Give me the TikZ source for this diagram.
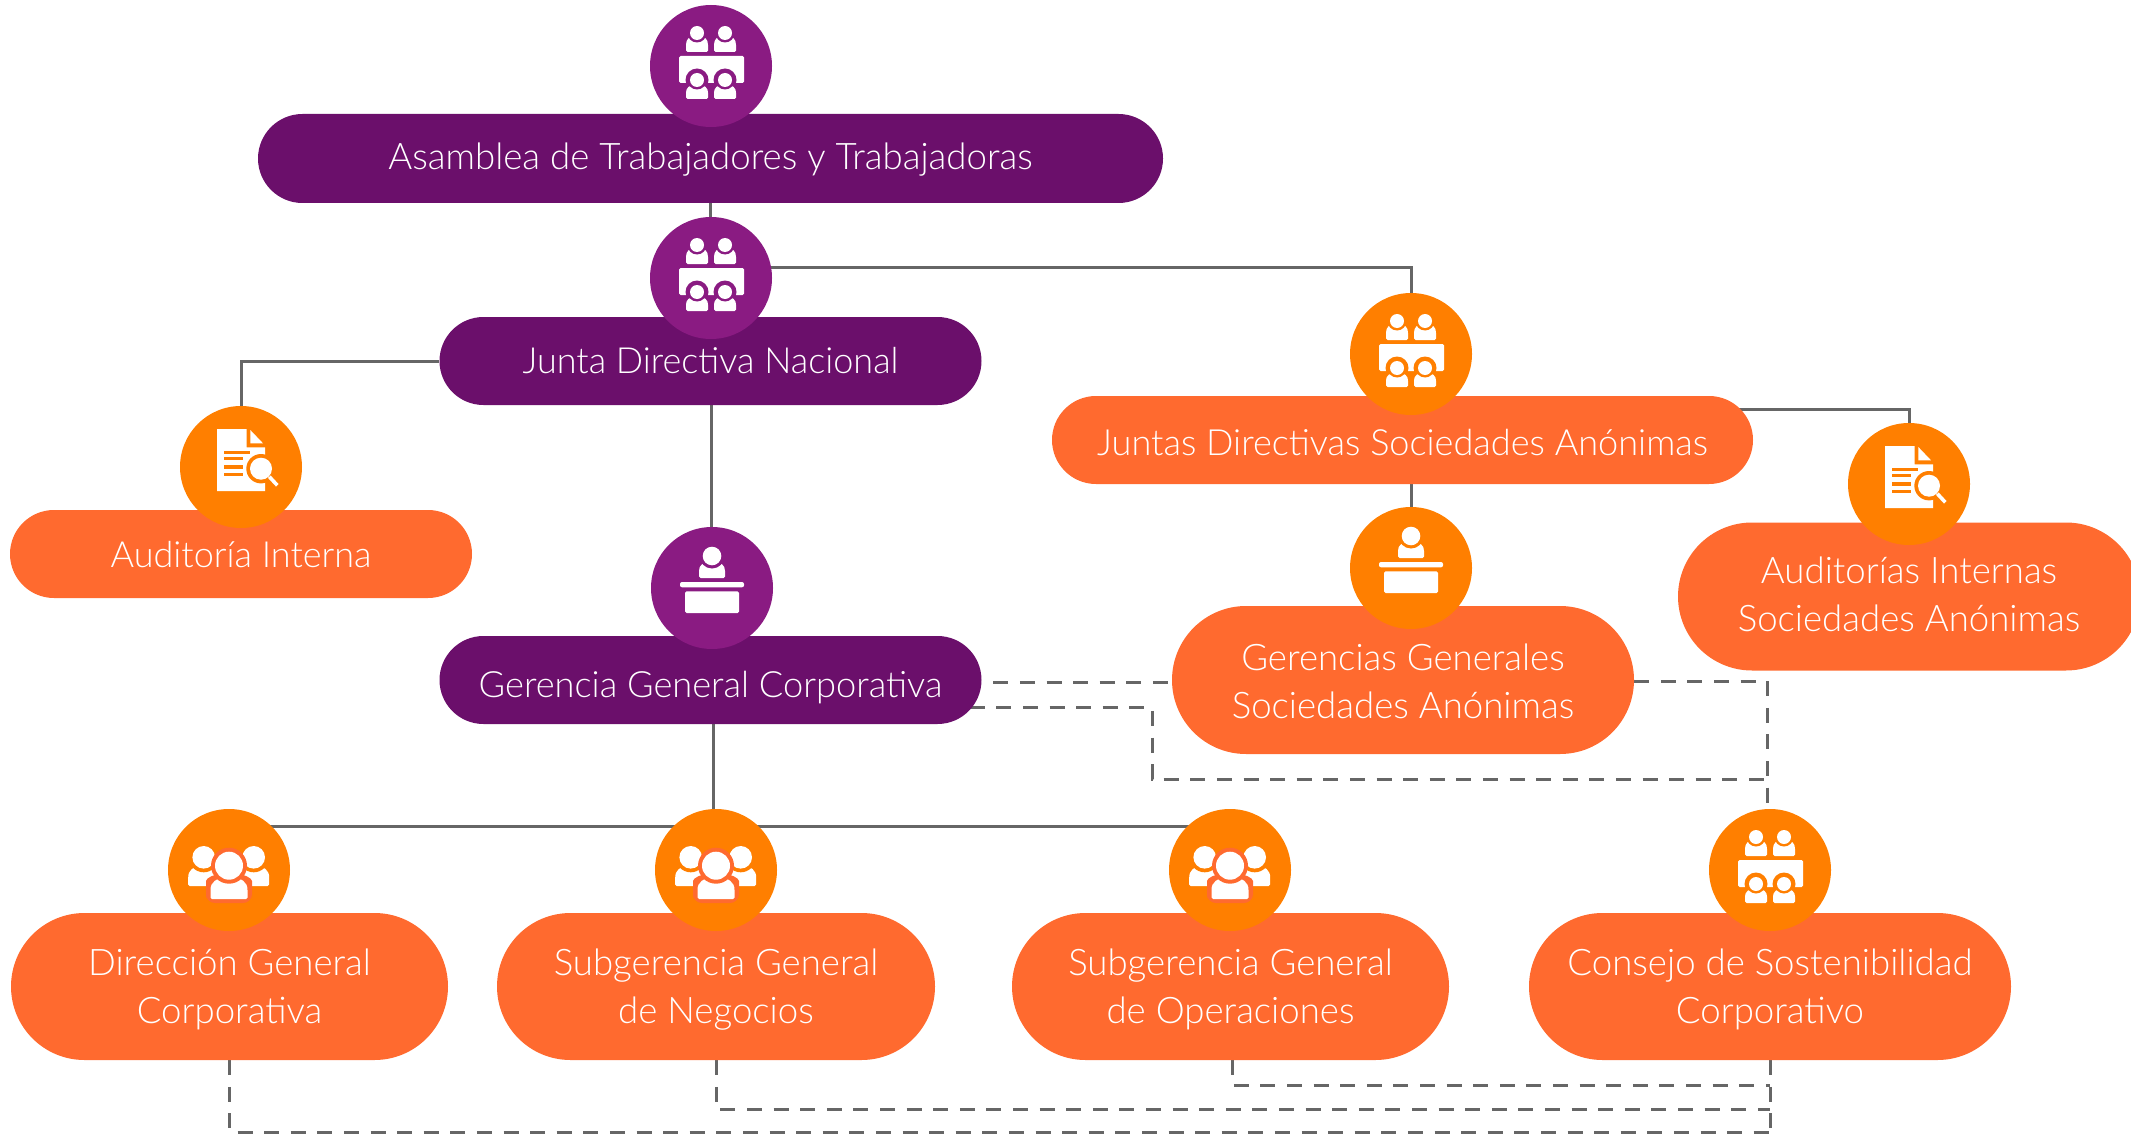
\documentclass[tikz,border=0pt]{standalone}
\usepackage{fontspec}
\setmainfont{Lato}[UprightFont=* Light]
\pgfdeclarelayer{bg}
\pgfsetlayers{bg,main}
\definecolor{cpur}{HTML}{8A1B82}
\definecolor{ppur}{HTML}{6B0F6B}
\definecolor{cora}{HTML}{FF7F00}
\definecolor{pora}{HTML}{FF6A2F}
\definecolor{linec}{HTML}{666666}
\newcommand{\lnst}[1][13]{\rule[-#1pt]{0pt}{48pt}}
\tikzset{
  x=1pt,y=-1pt,
  pill/.style args={#1/#2/#3}{rectangle,rounded corners=#3/2,minimum width=#1,minimum height=#3,inner sep=0pt,
     text=white,align=center,font=\fontsize{36.6}{48}\selectfont,fill=#2},
  fs/.style={font=\fontsize{#1}{48}\selectfont},
  ic/.style={circle,minimum size=122pt,inner sep=0pt,fill=#1},
  conn/.style={draw=linec,line width=3pt},
  dconn/.style={draw=linec,line width=3pt,dash pattern=on 15pt off 11.6pt},
}
% person: head centre (#1,#2), head radius #3, ring radius #4, ring colour #5, half width #6, body top #7, body bottom #8 (offsets from head centre)
\newcommand{\personic}[8]{%
  \fill[white,rounded corners=1.5pt] (#1-#6,#2+#8) -- (#1+#6,#2+#8) -- (#1+#6,#2+#7+0.65*#8-0.65*#7)
     .. controls (#1+#6,#2+#7+0.2*#8-0.2*#7) and (#1+0.7*#6,#2+#7) .. (#1,#2+#7)
     .. controls (#1-0.7*#6,#2+#7) and (#1-#6,#2+#7+0.2*#8-0.2*#7) .. (#1-#6,#2+#7+0.65*#8-0.65*#7) -- cycle;
  \fill[#5] (#1,#2) circle (#4);
  \fill[white] (#1,#2) circle (#3);
}
\newcommand{\meeting}[2]{%
  \begin{scope}[shift={(#1)}]
    \personic{-14}{-33}{7}{9.5}{#2}{11}{3}{19}
    \personic{14}{-33}{7}{9.5}{#2}{11}{3}{19}
    \fill[white,rounded corners=1.5pt] (-32,-10) rectangle (33,17);
    \fill[#2] (-14,14) circle (11.5) (14,14) circle (11.5);
    \fill[#2] (-32,17.5) rectangle (33,22);
    \personic{-14}{14}{7}{9.5}{#2}{11}{5}{19}
    \personic{14}{14}{7}{9.5}{#2}{11}{5}{19}
  \end{scope}}
\newcommand{\deskic}[2]{%
  \begin{scope}[shift={(#1)}]
    \personic{0}{-32}{9.3}{12.5}{#2}{13}{6}{22}
    \fill[white,rounded corners=2pt] (-32,-6) rectangle (32,-0.7);
    \fill[white,rounded corners=1.5pt] (-27,3.3) rectangle (27,25);
  \end{scope}}
\newcommand{\docic}[2]{%
  \begin{scope}[shift={(#1)}]
    \fill[white] (-24,-38) -- (5.7,-38) -- (5.7,-19.7) -- (24,-19.7) -- (24,24) -- (-24,24) -- cycle;
    \fill[white] (9.3,-37) -- (22,-23.7) -- (9.3,-23.7) -- cycle;
    \fill[#2] (-16.7,-16.4) rectangle (9,-13);
    \fill[#2] (-16.7,-10) rectangle (1.7,-6.6);
    \fill[#2] (-16.7,-1.7) rectangle (1.7,1.7);
    \fill[#2] (-16.7,5.6) rectangle (1.7,9);
    \fill[#2] (20,1.7) circle (14.7);
    \fill[white] (20,1.7) circle (11);
    \draw[white,line width=3.6pt] (28.3,9.7) -- (36.3,18.3);
  \end{scope}}
\newcommand{\groupic}[3]{%
  \begin{scope}[shift={(#1)}]
    \personic{-25.3}{-12.7}{11.3}{15}{#2}{15.5}{9}{28.7}
    \personic{24.7}{-12.7}{11.3}{15}{#2}{15.5}{9}{28.7}
    \fill[#3,rounded corners=9pt] (-23,33) -- (23,33) -- (23,20) .. controls (23,8) and (14,4) .. (0,4) .. controls (-14,4) and (-23,8) .. (-23,20) -- cycle;
    \personic{0}{-4.3}{14}{18}{#3}{18.5}{12}{33.3}
  \end{scope}}
\begin{document}
\begin{tikzpicture}
\useasboundingbox (0,0) rectangle (2131,1134);
% pills
\node[pill=905/ppur/89]   (pA) at (710.5,158.5) {\lnst Asamblea de Trabajadores y Trabajadoras};
\node[pill=542/ppur/88,fs=36]   (pJ) at (710.5,361) {\lnst[12]Junta Directiva Nacional};
\node[pill=542/ppur/88,fs=36.2]   (pG) at (710.5,680) {\lnst[6]Gerencia General Corporativa};
\node[pill=462/pora/88,fs=36]   (pI) at (241,554) {\lnst[11]Auditoría Interna};
\node[pill=701/pora/88,fs=36.1]   (pS) at (1402.5,440) {\lnst[9]Juntas Directivas Sociedades Anónimas};
\node[pill=462/pora/148]  (pGG) at (1403,680) {\lnst[10]Gerencias Generales\\\lnst[10]Sociedades Anónimas};
\node[pill=462/pora/148]  (pAS) at (1909,596.5) {\lnst Auditorías Internas\\\lnst Sociedades Anónimas};
\node[pill=437/pora/147]  (pD) at (229.5,986.5) {\lnst[11]Dirección General\\\lnst[11]Corporativa};
\node[pill=438/pora/147]  (pN) at (716,986.5) {\lnst[11]Subgerencia General\\\lnst[11]de Negocios};
\node[pill=437/pora/147]  (pO) at (1230.5,986.5) {\lnst[11]Subgerencia General\\\lnst[11]de Operaciones};
\node[pill=482/pora/147]  (pC) at (1770,986.5) {\lnst[11]Consejo de Sostenibilidad\\\lnst[11]Corporativo};
% circles
\node[ic=cpur] (cA) at (711,66) {};
\node[ic=cpur] (cJ) at (711,278) {};
\node[ic=cpur] (cG) at (712,588) {};
\node[ic=cora] (cI) at (241,467) {};
\node[ic=cora] (cS) at (1411,354) {};
\node[ic=cora] (cGG) at (1411,568) {};
\node[ic=cora] (cAS) at (1909,484) {};
\node[ic=cora] (cD) at (229,870) {};
\node[ic=cora] (cN) at (716,870) {};
\node[ic=cora] (cO) at (1230,870) {};
\node[ic=cora] (cC) at (1770,870) {};
% icons
\meeting{cA}{cpur}
\meeting{cJ}{cpur}
\meeting{cS}{cora}
\meeting{cC}{cora}
\deskic{cG}{cpur}
\deskic{cGG}{cora}
\docic{cI}{cora}
\docic{cAS}{cora}
\groupic{cD}{cora}{pora}
\groupic{cN}{cora}{pora}
\groupic{cO}{cora}{pora}
% connectors
\coordinate (bus) at (713,826);
\coordinate (lowG) at (1152,779);
\coordinate (lowO) at (1232,1085);
\coordinate (lowN) at (715,1109);
\coordinate (lowD) at (228,1132);
\begin{pgfonlayer}{bg}
\draw[conn] (pA.south) -- (pA.south |- cJ.center);
\draw[conn] ([yshift=11pt]cJ.center) -| (cS.center);
\draw[conn] (pJ.west) -| (cI.center);
\draw[conn] ([xshift=1pt]pJ.south) -- ([xshift=1pt]pJ.south |- cG.center);
\draw[conn] ([xshift=-30pt,yshift=31pt]pS.east) -| (cAS.center);
\draw[conn] (cS.center) -- (cGG.center);
\draw[conn] ([xshift=2.5pt]pG.south) -- ([xshift=2.5pt]pG.south |- bus);
\draw[conn] (cD.center |- bus) -- (cO.center |- bus);
\draw[dconn,dash phase=15pt] ([yshift=-2pt]pG.east) -- ([yshift=-2pt]pGG.west);
\draw[dconn] ([yshift=-27pt,xshift=-12pt]pG.east) -- ([yshift=-27pt]pG.east -| lowG) -- (lowG) -- (lowG -| cC.center);
\draw[dconn] ([yshift=-1pt]pGG.east) -| ([xshift=-3pt]cC.center);
\draw[dconn] (pD.south) |- (lowD -| pC.south);
\draw[dconn] (pN.south) |- (lowN -| pC.south);
\draw[dconn] (pO.south -| lowO) |- (lowO -| pC.south);
\draw[dconn] (pC.south) -- (pC.south |- lowD);
\end{pgfonlayer}
\end{tikzpicture}
\end{document}
